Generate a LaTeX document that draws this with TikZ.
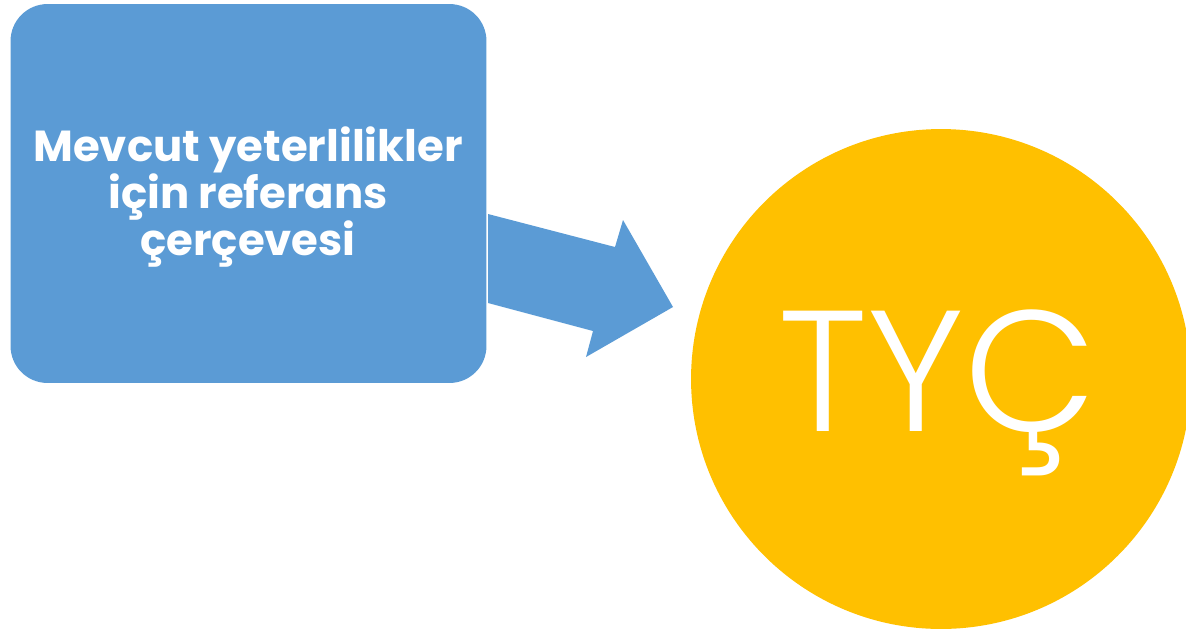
\documentclass[tikz,border=0pt]{standalone}
\usepackage{fontspec}
\setmainfont{Poppins}
\newfontfamily\tycfont{Poppins Light}
\usepackage{xcolor}
\usetikzlibrary{positioning}

\definecolor{boxblue}{HTML}{5B9BD5}
\definecolor{tycgold}{HTML}{FFC000}

\begin{document}
\begin{tikzpicture}[
    x=0.02cm, y=-0.02cm,
    every node/.style={text=white, inner sep=0pt},
    framebox/.style={fill=boxblue, rounded corners=0.74cm, minimum width=9.52cm, minimum height=7.58cm},
    framelabel/.style={align=center, font=\bfseries\fontsize{24.7}{26.6}\selectfont},
    tycball/.style={circle, fill=tycgold, minimum size=10cm},
    tyclabel/.style={font=\tycfont\fontsize{98}{98}\selectfont},
    arrowfill/.style={fill=boxblue}
]
    \useasboundingbox (0,0) rectangle (1186,630);
    \clip (0,0) rectangle (1186,630);

    \node[framebox]   (ref)    at (248.5,193.5) {};
    \node[framelabel] (reflbl) at (248,197) {Mevcut yeterlilikler\\için referans\\çerçevesi};

    \node[tycball]            (tyc)    at (941,379) {};
    \node[tyclabel, anchor=base] (tyclbl) at (938,431) {TYÇ};

    % block arrow between the two
    \fill[arrowfill] (488,214) -- (615,247) -- (623,220) -- (673,307)
        -- (586,357) -- (593,331) -- (488,303) -- cycle;
\end{tikzpicture}
\end{document}
